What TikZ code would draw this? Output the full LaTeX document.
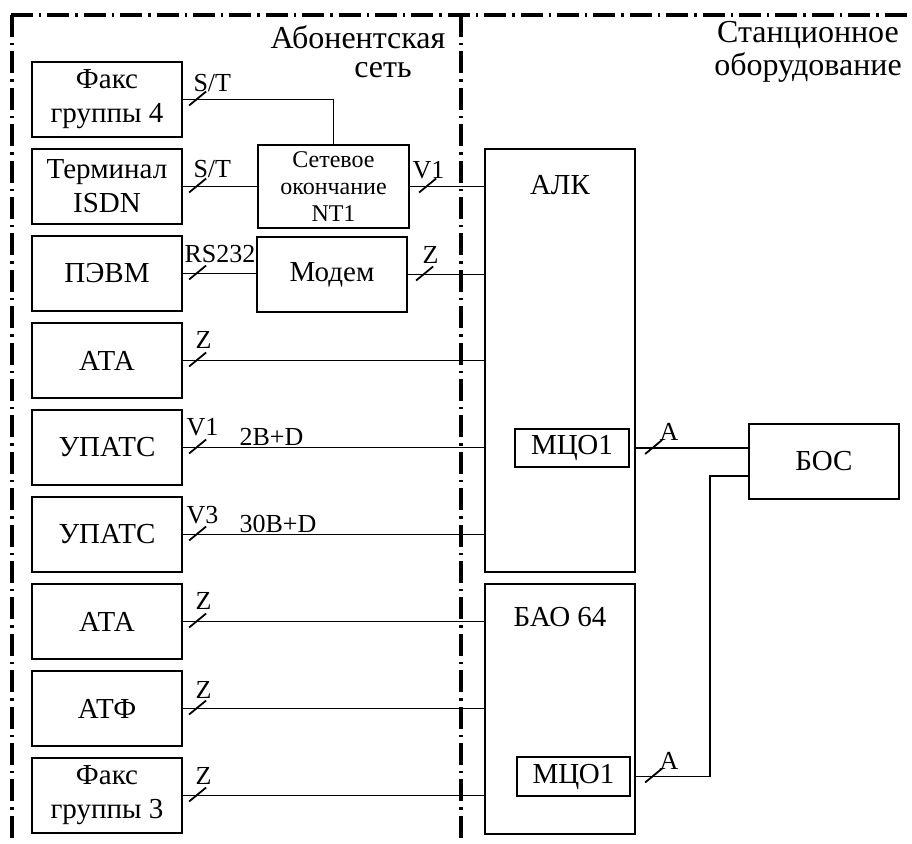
\documentclass[tikz,border=0pt]{standalone}
\usepackage{fontspec}
\setmainfont{Liberation Serif}
\usetikzlibrary{calc}

% short slash across a line, #2 is the point on the line
\newcommand{\cutmark}[2][6]{\draw[markline] ($(#2)+(#1,6)$) -- ++(17,-14);}

\begin{document}
\begin{tikzpicture}[x=0.5pt, y=-0.5pt,
    unit/.style={draw, line width=1.1pt, minimum width=75pt, minimum height=37.5pt,
      inner sep=1pt, align=center, font=\fontsize{14.5}{17}\selectfont},
    head/.style={inner sep=0pt, align=center, font=\fontsize{16}{16.5}\selectfont},
    sig/.style={inner sep=0pt, anchor=west, font=\fontsize{13}{13}\selectfont},
    zone/.style={line width=1.6pt, dash pattern=on 11pt off 3pt on 1.2pt off 3pt},
    wire/.style={line width=0.9pt},
    markline/.style={line width=0.9pt}]
  \useasboundingbox (0,0) rectangle (912,843);

  % zone borders
  \draw[zone] (11,15) -- (912,15);
  \draw[zone] (12,15) -- (12,843);
  \draw[zone] (461,15) -- (461,843);
  \node[head] (subnet1) at (358,37) {Абонентская};
  \node[head] (subnet2) at (383,70) {сеть};
  \node[head] (station) at (808,52) {Станционное\\оборудование};

  % subscriber side
  \node[unit] (fax4)   at (107,99.5)  {Факс\\группы 4};
  \node[unit] (isdn)   at (107,186.5) {Терминал\\ISDN};
  \node[unit] (pc)     at (107,273.5) {ПЭВМ};
  \node[unit] (ata1)   at (107,360.5) {АТА};
  \node[unit] (upats1) at (107,447.5) {УПАТС};
  \node[unit] (upats2) at (107,534.5) {УПАТС};
  \node[unit] (ata2)   at (107,621.5) {АТА};
  \node[unit] (atf)    at (107,708.5) {АТФ};
  \node[unit] (fax3)   at (107,795.5) {Факс\\группы 3};
  \node[unit, inner sep=0.5pt, minimum width=75.5pt, minimum height=41.5pt,
    font=\fontsize{12}{13.5}\selectfont] (nt) at (333.5,186.5) {Сетевое\\окончание\\NT1};
  \node[unit] (modem) at (332,274.5) {Модем};

  % station side
  \node[unit, minimum height=211.5pt] (alk) at (560,360.5) {};
  \node[unit, minimum height=125pt] (bao) at (560,709) {};
  \node[unit, draw=none] (alktext) at ($(alk.north)+(0,37)$) {АЛК};
  \node[unit, draw=none] (baotext) at ($(bao.north)+(0,34)$) {БАО 64};
  \node[unit, minimum width=57pt, minimum height=19pt] (mco1) at (572,448) {МЦО1};
  \node[unit, minimum width=56.5pt, minimum height=19.5pt] (mco2) at (573.5,776.5) {МЦО1};
  \node[unit] (bos) at (824,461.5) {БОС};
  \coordinate (aout1) at (alk.east |- mco1);
  \coordinate (aout2) at (bao.east |- mco2);

  % connections
  \draw[wire] (fax4.east) -| (nt.north);
  \draw[wire] (isdn.east) -- (nt.west);
  \draw[wire] (nt.east) -- (nt.east -| alk.west);
  \draw[wire] (pc.east) -- (pc.east -| modem.west);
  \draw[wire] (modem.east) -- (modem.east -| alk.west);
  \foreach \src in {ata1, upats1, upats2}
    \draw[wire] (\src.east) -- (\src.east -| alk.west);
  \foreach \src in {ata2, atf, fax3}
    \draw[wire] (\src.east) -- (\src.east -| bao.west);
  \draw[wire] (aout1) -- (aout1 -| bos.west);
  \draw[wire] (aout2) -- ++(74,0) |- ($(bos.west)+(0,14.5)$);

  % slashes
  \foreach \src in {fax4, isdn, pc, ata1, upats1, upats2, ata2, atf, fax3}
    \cutmark{\src.east};
  \cutmark[9]{nt.east}
  \cutmark[8]{modem.east}
  \cutmark[9]{aout1}
  \cutmark[9]{aout2}

  % interface labels
  \node[sig] (l1) at ($(fax4.east)+(10,-16.5)$) {S/T};
  \node[sig] (l2) at ($(isdn.east)+(10,-17)$) {S/T};
  \node[sig] (l3) at ($(nt.east)+(2,-16.5)$) {V1};
  \node[sig] (l4) at ($(pc.east)+(1,-19)$) {RS232};
  \node[sig] (l5) at ($(modem.east)+(14,-19.5)$) {Z};
  \node[sig] (l6) at ($(ata1.east)+(12,-20.5)$) {Z};
  \node[sig] (l7) at ($(upats1.east)+(3,-20)$) {V1};
  \node[sig] (l8) at ($(upats1.east)+(56,-11)$) {2B+D};
  \node[sig] (l9) at ($(upats2.east)+(3,-19.5)$) {V3};
  \node[sig] (l10) at ($(upats2.east)+(56,-10.5)$) {30B+D};
  \node[sig] (l11) at ($(ata2.east)+(12,-20.5)$) {Z};
  \node[sig] (l12) at ($(atf.east)+(12,-18.5)$) {Z};
  \node[sig] (l13) at ($(fax3.east)+(12,-19.5)$) {Z};
  \node[sig] (l14) at ($(aout1)+(23,-16)$) {А};
  \node[sig] (l15) at ($(aout2)+(23,-15.5)$) {А};
\end{tikzpicture}
\end{document}
